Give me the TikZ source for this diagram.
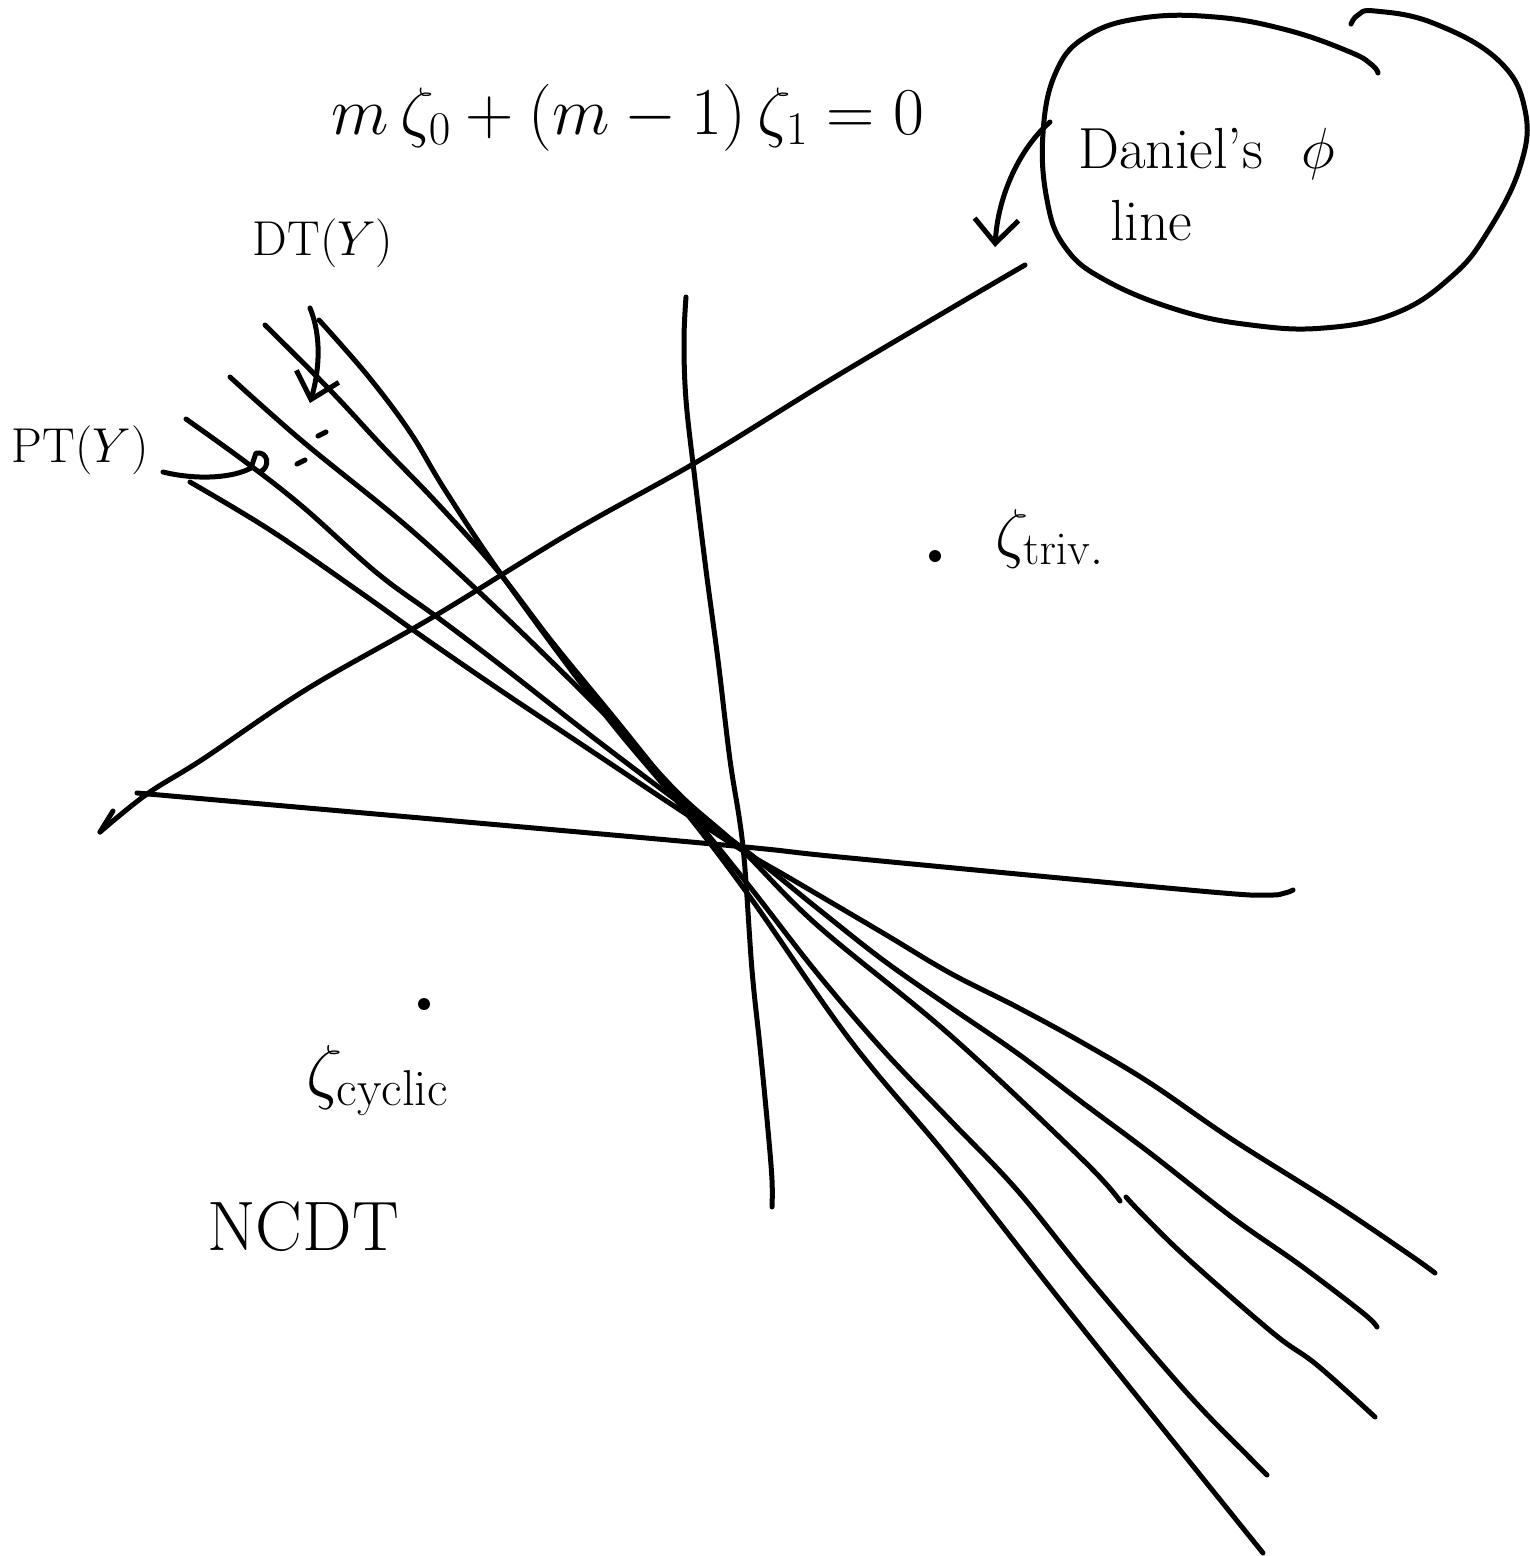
\RequirePackage{fix-cm}
\documentclass[tikz,border=0pt]{standalone}
\usetikzlibrary{arrows.meta}
\begin{document}
\begin{tikzpicture}[x=1pt,y=-1pt,
  pen/.style={line width=5pt, line cap=round, line join=round},
  handarrow/.style={pen, -{Straight Barb[length=24pt,width=44pt,line width=5pt]}},
  lbl/.style={inner sep=0pt, outer sep=0pt},
  dotmark/.style={fill=black}]
\useasboundingbox (0,0) rectangle (1530,1556);
\fill[white] (0,0) rectangle (1530,1556);

% ---- texts ----
\node[lbl, font=\fontsize{67}{76}\selectfont] (eq) at (628,118) {$m\,\zeta_0+(m-1)\,\zeta_1=0$};
\node[lbl, font=\fontsize{49}{56}\selectfont] (dt) at (323,243) {DT$(Y)$};
\node[lbl, font=\fontsize{49}{56}\selectfont] (pt) at (80,450) {PT$(Y)$};
\node[lbl, font=\fontsize{58}{66}\selectfont, anchor=base west] (dan) at (1078,168) {Daniel's\hspace{38pt}$\phi$};
\node[lbl, font=\fontsize{58}{66}\selectfont, anchor=base west] (dline) at (1110,240) {line};
\node[lbl, font=\fontsize{66}{74}\selectfont, anchor=base west] (triv) at (995,555) {$\zeta_{\mathrm{triv.}}$};
\node[lbl, font=\fontsize{72}{80}\selectfont, anchor=base west] (cyc) at (306,1095) {$\zeta_{\mathrm{cyclic}}$};
\node[lbl, font=\fontsize{70}{78}\selectfont] (ncdt) at (303,1227) {NCDT};

% ---- points ----
\fill[dotmark] (935,556) circle (6);
\fill[dotmark] (424,1004) circle (6);
\draw[pen] (318,436) -- (326,432);
\draw[pen] (297,464) -- (305,460);

% ---- loop around Daniel's line ----
\draw[pen] plot[smooth, tension=0.7] coordinates {
 (1351,24) (1358,15) (1375,11) (1433,23) (1498,60) (1525,110) (1520,167)
 (1487,233) (1451,277) (1396,313) (1324,328) (1251,325) (1178,310)
 (1105,280) (1065,247) (1047,200) (1043,133) (1056,72) (1087,36)
 (1142,18) (1215,17) (1287,30) (1350,52) (1372,65) (1378,73)};

% ---- Daniel's line ----
\draw[pen] plot[smooth, tension=0.6] coordinates {
 (1025,265) (960,303) (830,380) (700,460) (570,533) (433,617) (307,689)
 (203,759) (147,794) (100,832)};
\draw[pen] (100,832) -- (113,811);

% ---- near-horizontal line ----
\draw[pen] plot[smooth, tension=0.6] coordinates {
 (137,793) (500,825) (745,847) (850,858) (1200,891) (1267,895) (1285,893) (1293,890)};

% ---- near-vertical line ----
\draw[pen] plot[smooth, tension=0.6] coordinates {
 (686,297) (684,340) (686,400) (695,480) (706,570) (718,660) (730,760)
 (743,847) (752,970) (760,1047) (768,1130) (772,1180) (772,1207)};

% ---- bundle of lines ----
\draw[pen] plot[smooth, tension=0.6] coordinates {
 (319,320) (368,376) (410,432) (445,490) (503,577) (603,712) (680,805)
 (750,897) (850,1040) (950,1160) (1060,1300) (1160,1425) (1263,1553)};
\draw[pen] plot[smooth, tension=0.6] coordinates {
 (265,325) (330,390) (383,447) (437,503) (497,570) (553,643) (620,725)
 (680,800) (750,887) (817,973) (883,1050) (950,1120) (1017,1190)
 (1090,1280) (1187,1393) (1250,1458) (1267,1475)};
\draw[pen] plot[smooth, tension=0.6] coordinates {
 (230,377) (270,413) (313,450) (403,523) (477,590) (553,663)
 (620,730) (680,795) (740,848) (817,925) (950,1035) (1083,1160) (1120,1201)};
\draw[pen] plot[smooth, tension=0.6] coordinates {
 (1126,1197) (1143,1215) (1187,1258) (1273,1333) (1317,1365) (1375,1417)};
\draw[pen] plot[smooth, tension=0.6] coordinates {
 (186,419) (247,463) (303,507) (377,573) (437,617) (503,667) (590,735)
 (680,803) (745,850) (817,908) (883,960) (950,1007) (1017,1053) (1083,1103)
 (1150,1153) (1233,1218) (1300,1265) (1363,1313) (1377,1327)};
\draw[pen] plot[smooth, tension=0.6] coordinates {
 (190,482) (270,530) (357,590) (423,637) (500,690) (590,750) (680,810)
 (745,852) (793,880) (883,933) (950,973) (1017,1007) (1083,1043)
 (1150,1083) (1233,1140) (1333,1203) (1410,1255) (1435,1273)};

% ---- arrows ----
\coordinate (dts) at (310,308);
\coordinate (dttip) at (310,403);
\draw[handarrow] (dts) .. controls (323,340) and (318,375) .. (dttip);

\coordinate (pts) at (163,472);
\coordinate (ptend) at (251,468);
\draw[pen] (pts) .. controls (200,481) and (235,477) .. (ptend);
\draw[pen] (ptend) -- (256,453) .. controls (268,451) and (271,467) .. (260,472);

\coordinate (das) at (1050,122);
\coordinate (datip) at (995,247);
\draw[handarrow] (das) .. controls (1020,148) and (998,195) .. (datip);
\end{tikzpicture}
\end{document}
